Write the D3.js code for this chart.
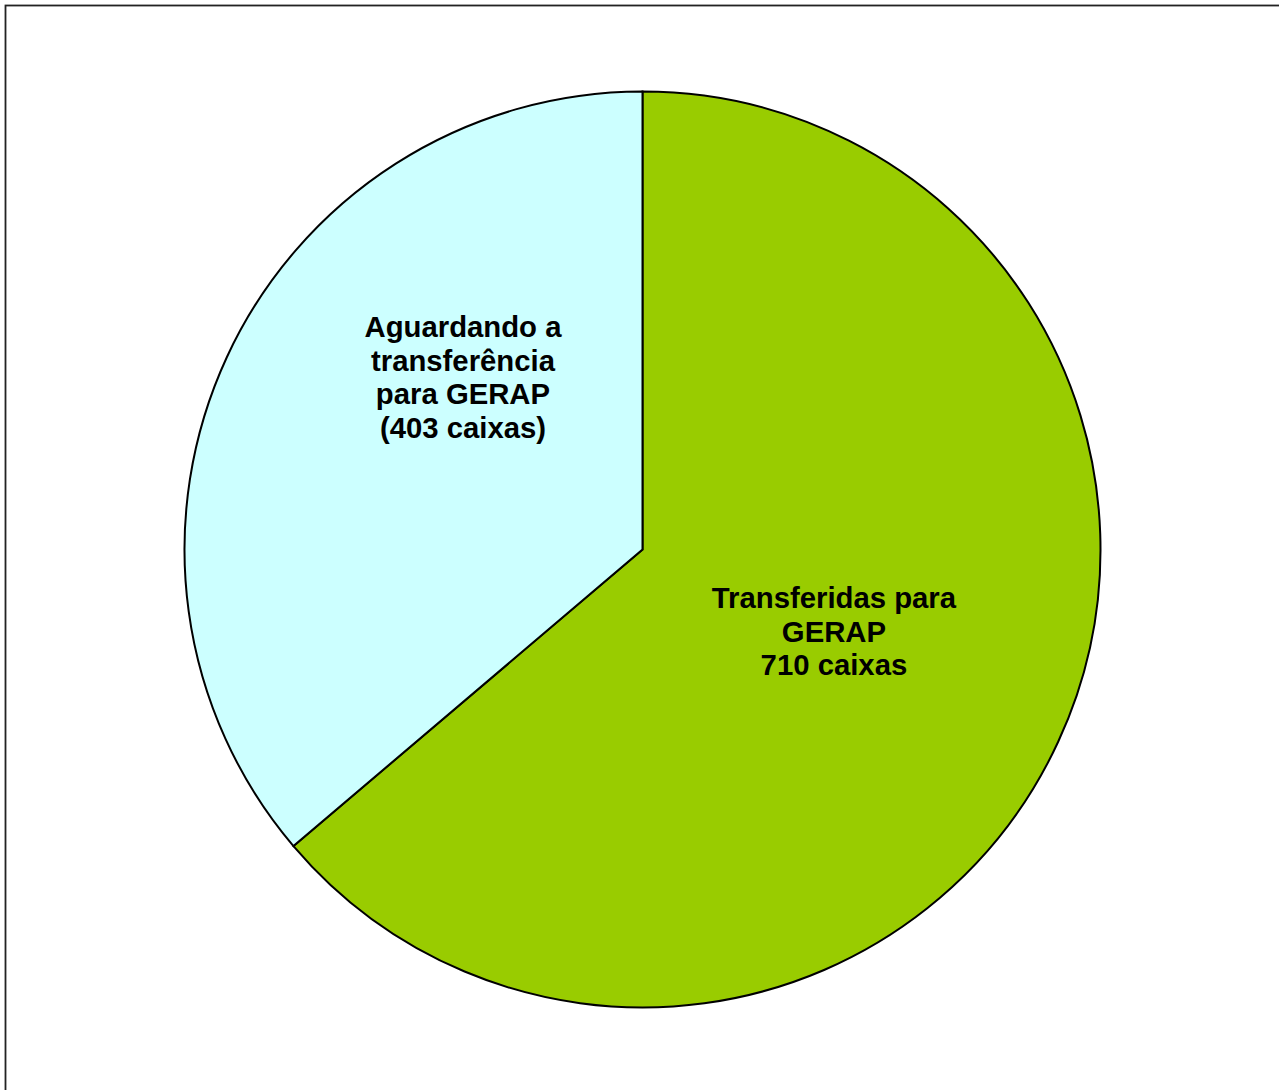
<!DOCTYPE html>
<html>
<head>
<meta charset="utf-8">
<script src="https://cdn.jsdelivr.net/npm/d3@7"></script>
<style>
  html, body { margin: 0; padding: 0; background: #fff; overflow: hidden; }
  svg { display: block; }
</style>
</head>
<body>
<svg id="chart" width="1279" height="1090"></svg>
<script>
const categories = ["Transferidas para GERAP", "Aguardando a transferência para GERAP"];
const values = [710, 403];
const labelLines = [
  ["Transferidas para", "GERAP", "710 caixas"],
  ["Aguardando a", "transferência", "para GERAP", "(403 caixas)"]
];
const colors = ["#99CC00", "#CCFFFF"];

const svg = d3.select("#chart");

// outer frame (extends past right/bottom of the view)
svg.append("rect")
  .attr("x", 5.5).attr("y", 5.5)
  .attr("width", 1300).attr("height", 1120)
  .attr("fill", "#fff")
  .attr("stroke", "#222").attr("stroke-width", 1.8);

const cx = 642.5, cy = 549.5, R = 458;

const data = categories.map((c, i) => ({ name: c, value: values[i], lines: labelLines[i], color: colors[i] }));

const pie = d3.pie().value(d => d.value).sort(null);
const arc = d3.arc().innerRadius(0).outerRadius(R);
const arcs = pie(data);

const g = svg.append("g").attr("transform", `translate(${cx},${cy})`);

g.selectAll("path.slice")
  .data(arcs)
  .join("path")
  .attr("class", "slice")
  .attr("d", arc)
  .attr("fill", d => d.data.color)
  .attr("stroke", "#000")
  .attr("stroke-width", 2)
  .attr("stroke-linejoin", "miter");

// label anchors (middle baseline) as fractions of the radius
const labelAnchor = [[0.418, 0.201], [-0.392, -0.354]];
const lineH = 33.7, fontSize = 29.3;

g.selectAll("text.lbl")
  .data(arcs)
  .join("text")
  .attr("class", "lbl")
  .attr("text-anchor", "middle")
  .attr("font-family", "'Liberation Sans', Arial, sans-serif")
  .attr("font-weight", "bold")
  .attr("font-size", fontSize)
  .attr("fill", "#000")
  .each(function(d, i) {
    const n = d.data.lines.length;
    const ax = labelAnchor[i][0] * R, ay = labelAnchor[i][1] * R;
    const t = d3.select(this);
    d.data.lines.forEach((ln, k) => {
      t.append("tspan")
        .attr("x", ax)
        .attr("y", ay + (k - (n - 1) / 2) * lineH)
        .text(ln);
    });
  });
</script>
</body>
</html>
